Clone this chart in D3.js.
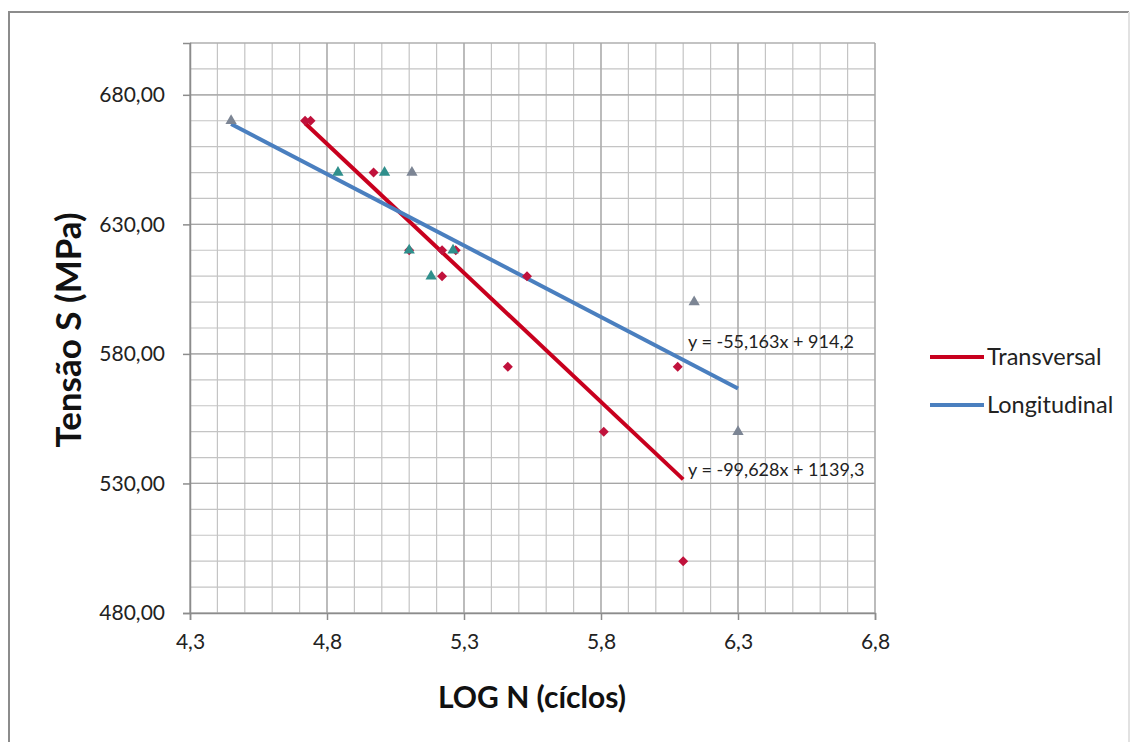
<!DOCTYPE html>
<html>
<head>
<meta charset="utf-8">
<script src="https://cdn.jsdelivr.net/npm/d3@7"></script>
<style>
  body { margin: 0; background: #fff; }
  svg { display: block; font-family: Lato, "Open Sans", sans-serif; }
</style>
</head>
<body>
<svg width="1132" height="742"></svg>
<script>
// data: [log N, stress MPa]
var transversal = [
  [4.72, 670], [4.74, 670], [4.97, 650], [5.10, 620], [5.22, 620],
  [5.27, 620], [5.22, 610], [5.53, 610], [5.46, 575], [5.81, 550],
  [6.08, 575], [6.10, 500]
]
// longitudinal points, two marker shades as in the original
var longitudinalGray = [[4.45, 670], [5.11, 650], [6.14, 600], [6.30, 550]]
var longitudinalTeal = [[4.84, 650], [5.01, 650], [5.10, 620], [5.26, 620], [5.18, 610]]

// linear trendlines printed on the chart: [slope, intercept, xStart, xEnd]
var trendTransversal = [-99.628, 1139.3, 4.72, 6.10]
var trendLongitudinal = [-55.163, 914.2, 4.45, 6.30]
var equationLabels = ["y = -55,163x + 914,2", "y = -99,628x + 1139,3"]

var xTicks = [4.3, 4.8, 5.3, 5.8, 6.3, 6.8]
var yTicks = [480, 530, 580, 630, 680]
var legendNames = ["Transversal", "Longitudinal"]

var drawChart = function()
{
  var svg = d3.select("svg")
  var pl = 190, pr = 875, pt = 43, pb = 613

  var x = d3.scaleLinear().domain([4.3, 6.8]).range([pl, pr])
  var y = d3.scaleLinear().domain([480, 700]).range([pb, pt])

  var fmt = function(v){ return d3.format(".1f")(v).replace(".", ",") }
  var fmtY = function(v){ return d3.format(".2f")(v).replace(".", ",") }

  // outer chart border
  svg.append("path")
    .attr("d", "M9,742 V12 H1129")
    .attr("fill", "none")
    .attr("stroke", "#8c8c8c")
    .attr("stroke-width", 2)
  svg.append("line")
    .attr("x1", 1129).attr("x2", 1129).attr("y1", 12).attr("y2", 742)
    .attr("stroke", "#e2e2e2").attr("stroke-width", 2)

  // grid
  var grid = svg.append("g")
  grid.selectAll("line.vx")
    .data(d3.range(0, 26).map(function(i){ return 4.3 + i * 0.1 }))
    .join("line")
    .attr("x1", function(d){ return x(d) }).attr("x2", function(d){ return x(d) })
    .attr("y1", pt).attr("y2", pb)
    .attr("stroke", "#c4c4c4").attr("stroke-width", 1.2)
  grid.selectAll("line.hy")
    .data(d3.range(480, 701, 10))
    .join("line")
    .attr("x1", pl).attr("x2", pr)
    .attr("y1", function(d){ return y(d) }).attr("y2", function(d){ return y(d) })
    .attr("stroke", "#c4c4c4").attr("stroke-width", 1.2)
  // major lines a bit darker
  grid.append("g").selectAll("line")
    .data(xTicks)
    .join("line")
    .attr("x1", function(d){ return x(d) }).attr("x2", function(d){ return x(d) })
    .attr("y1", pt).attr("y2", pb)
    .attr("stroke", "#a6a6a6").attr("stroke-width", 1.2)
  grid.append("g").selectAll("line")
    .data(yTicks.concat([700]))
    .join("line")
    .attr("x1", pl).attr("x2", pr)
    .attr("y1", function(d){ return y(d) }).attr("y2", function(d){ return y(d) })
    .attr("stroke", "#a6a6a6").attr("stroke-width", 1.2)

  // axes
  var xAxis = svg.append("g")
    .attr("transform", "translate(0," + pb + ")")
    .call(d3.axisBottom(x).tickValues(xTicks).tickFormat(fmt).tickSize(7).tickPadding(14))
  var yAxis = svg.append("g")
    .attr("transform", "translate(" + pl + ",0)")
    .call(d3.axisLeft(y).tickValues(yTicks).tickFormat(fmtY).tickSize(7).tickPadding(18))
  ;[xAxis, yAxis].forEach(function(a){
    a.attr("font-size", null).attr("font-family", null)
    a.select(".domain").attr("stroke", "#8c8c8c").attr("stroke-width", 1.5)
    a.selectAll(".tick line").attr("stroke", "#8c8c8c").attr("stroke-width", 1.5)
    a.selectAll("text").attr("fill", "#222").style("font-size", "21px")
  })

  // trendlines
  var trend = function(t){
    return [[t[2], t[0] * t[2] + t[1]], [t[3], t[0] * t[3] + t[1]]]
  }
  var line = d3.line().x(function(d){ return x(d[0]) }).y(function(d){ return y(d[1]) })
  svg.append("path").datum(trend(trendTransversal))
    .attr("d", line).attr("stroke", "#c8001e").attr("stroke-width", 4).attr("fill", "none")
  svg.append("path").datum(trend(trendLongitudinal))
    .attr("d", line).attr("stroke", "#4a7fbf").attr("stroke-width", 4).attr("fill", "none")

  // markers
  var diamond = d3.symbol().type(d3.symbolSquare).size(50)
  var tri = d3.symbol().type(d3.symbolTriangle).size(55)
  svg.append("g").selectAll("path")
    .data(transversal)
    .join("path")
    .attr("d", diamond)
    .attr("transform", function(d){ return "translate(" + x(d[0]) + "," + y(d[1]) + ") rotate(45)" })
    .attr("fill", "#c0123c")
  svg.append("g").selectAll("path")
    .data(longitudinalGray)
    .join("path")
    .attr("d", tri)
    .attr("transform", function(d){ return "translate(" + x(d[0]) + "," + y(d[1]) + ")" })
    .attr("fill", "#7c8594")
  svg.append("g").selectAll("path")
    .data(longitudinalTeal)
    .join("path")
    .attr("d", tri)
    .attr("transform", function(d){ return "translate(" + x(d[0]) + "," + y(d[1]) + ")" })
    .attr("fill", "#2f8f8c")

  // equations
  svg.selectAll("text.eq")
    .data(equationLabels)
    .join("text")
    .attr("class", "eq")
    .attr("x", 688)
    .attr("y", function(d, i){ return i == 0 ? 348 : 476 })
    .attr("fill", "#222")
    .style("font-size", "18px")
    .text(function(d){ return d })

  // axis titles
  svg.append("text")
    .attr("x", 532).attr("y", 708)
    .attr("text-anchor", "middle")
    .style("font-size", "30px").style("font-weight", "bold")
    .attr("fill", "#111")
    .text("LOG N (cíclos)")
  svg.append("text")
    .attr("transform", "translate(81,330) rotate(-90)")
    .attr("text-anchor", "middle")
    .style("font-size", "35px").style("font-weight", "bold")
    .attr("fill", "#111")
    .text("Tensão S (MPa)")

  // legend
  var legendColors = ["#c8001e", "#4a7fbf"]
  var lg = svg.append("g").selectAll("g")
    .data(legendNames)
    .join("g")
    .attr("transform", function(d, i){ return "translate(930," + (357 + i * 48) + ")" })
  lg.append("line").attr("x1", 0).attr("x2", 54)
    .attr("stroke", function(d, i){ return legendColors[i] }).attr("stroke-width", 4)
  lg.append("text").attr("x", 57).attr("dy", "0.35em")
    .style("font-size", "23.5px").attr("fill", "#222")
    .text(function(d){ return d })
}

drawChart()
</script>
</body>
</html>
